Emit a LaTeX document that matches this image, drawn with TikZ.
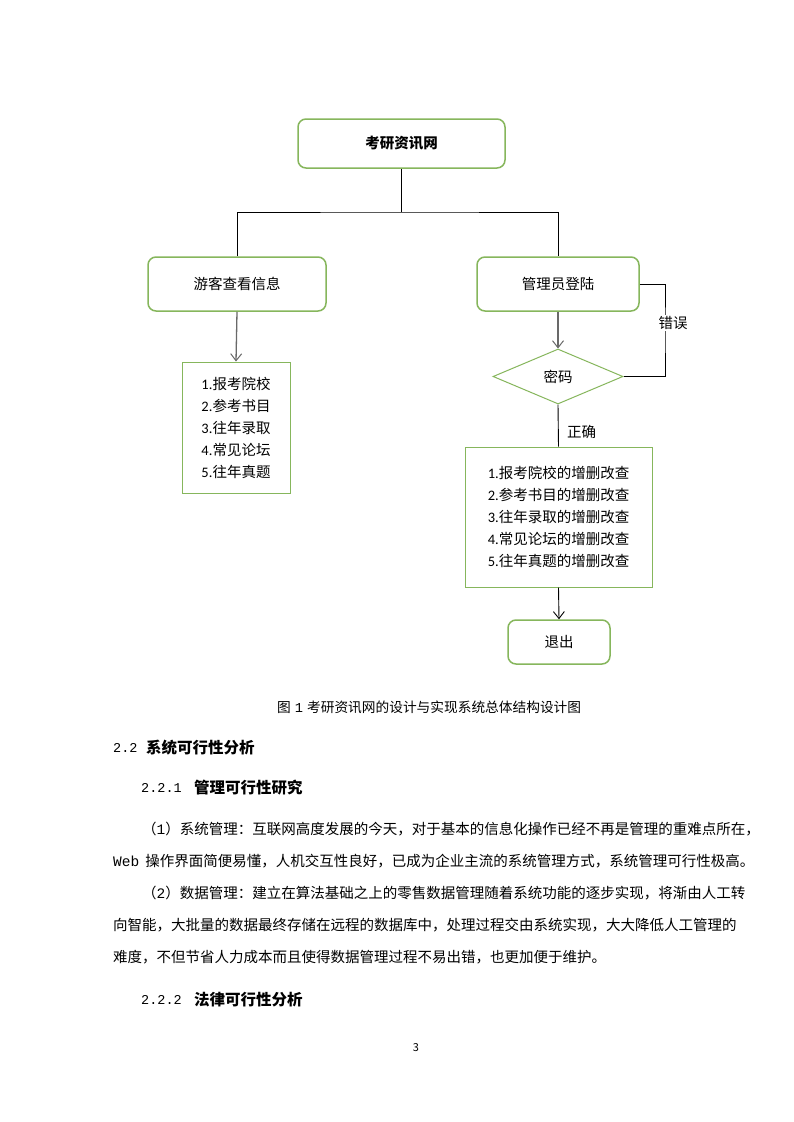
\documentclass[tikz,border=0pt]{standalone}
\usepackage{fontspec}
\setmainfont{Noto Sans CJK SC}
\newfontfamily\monof{Liberation Mono}
\newfontfamily\calf{Carlito}
\usetikzlibrary{shapes.geometric,arrows.meta}
\XeTeXlinebreaklocale "zh"
\XeTeXlinebreakskip=0pt plus 3pt minus 1.5pt
\definecolor{gr}{RGB}{134,182,92}
\definecolor{agray}{RGB}{105,105,105}
\newcommand{\jl}[2]{\makebox[#1][s]{#2}}
\tikzset{
  rbox/.style={draw=gr, line width=1.5pt, rounded corners=8pt, fill=white, inner sep=0pt, font=\fontsize{14.5}{17}\selectfont},
  lbox/.style={draw=gr, line width=1pt, fill=white, inner sep=0pt, align=left, font=\fontsize{14.5}{22}\selectfont},
  dia/.style={diamond, draw=gr, line width=1pt, fill=white, inner sep=0pt, font=\fontsize{14.5}{17}\selectfont},
  conn/.style={draw=black, line width=0.9pt},
  garrow/.style={draw=agray, line width=1.3pt, -{Straight Barb[length=7pt,width=11pt,line width=1pt]}},
  barrow/.style={draw=black, line width=0.9pt, -{Straight Barb[length=7pt,width=11pt,line width=0.9pt]}},
  lbl/.style={inner sep=1pt, fill=white, font=\fontsize{14.5}{17}\selectfont},
  bodyt/.style={inner sep=0pt, anchor=west, font=\fontsize{14.5}{17}\selectfont},
  headt/.style={inner sep=0pt, anchor=west, font=\fontsize{15.5}{18}\selectfont\bfseries},
  numt/.style={inner sep=0pt, anchor=west, font=\fontsize{13.5}{16}\monof},
}
\begin{document}
\begin{tikzpicture}[x=1pt,y=-1pt]
\useasboundingbox (0,0) rectangle (793,1122);
\fill[white] (0,0) rectangle (793,1122);

% flowchart nodes
\node[rbox, minimum width=207, minimum height=49] (top) at (401.5,143.5) {\bfseries 考研资讯网};
\node[rbox, minimum width=178, minimum height=54] (guest) at (237,284) {游客查看信息};
\node[rbox, minimum width=162, minimum height=54] (admin) at (558,284) {管理员登陆};
\node[lbox, minimum width=108, minimum height=131] (list1) at (236,427.5)
  {{\calf 1.}报考院校\\{\calf 2.}参考书目\\{\calf 3.}往年录取\\{\calf 4.}常见论坛\\{\calf 5.}往年真题};
\node[dia, minimum width=130, minimum height=55] (pwd) at (558,376.5) {密码};
\node[lbox, minimum width=187, minimum height=140] (list2) at (558.5,517)
  {{\calf 1.}报考院校的增删改查\\{\calf 2.}参考书目的增删改查\\{\calf 3.}往年录取的增删改查\\{\calf 4.}常见论坛的增删改查\\{\calf 5.}往年真题的增删改查};
\node[rbox, minimum width=102, minimum height=44] (exit) at (559,642) {退出};

\coordinate (jn) at (401.5,212);
\coordinate (loopc) at (665,330);

% connectors
\draw[conn] (top.south) -- (jn);
\draw[conn] (guest.north) |- (jn) -| (admin.north);
\draw[garrow] (guest.south) -- (list1.north);
\draw[garrow] (admin.south) -- (pwd.north);
\draw[conn] (pwd.south) -- (list2.north);
\draw[barrow] (list2.south) -- (exit.north);
\draw[conn] (admin.east) -| (loopc) |- (pwd.east);
\node[lbl] (err) at (673,323) {错误};
\node[lbl, anchor=west] (ok) at (566,432) {正确};

% caption and body text
\node[inner sep=0pt, anchor=west, font=\fontsize{13.7}{16}\selectfont] (cap) at (277,707) {图\hspace{4pt}{\monof 1}\hspace{4pt}考研资讯网的设计与实现系统总体结构设计图};
\node[numt] (h1n) at (113,748) {2.2};
\node[headt] (h1) at (146,748) {系统可行性分析};
\node[numt] (h2n) at (141,788) {2.2.1};
\node[headt] (h2) at (194,788) {管理可行性研究};
\node[bodyt] (p1) at (142,829) {\jl{572pt}{（{\monof 1}）系统管理：互联网高度发展的今天，对于基本的信息化操作已经不再是管理的重难点所在，}};
\node[bodyt] (p2) at (113,861) {\jl{606pt}{{\monof Web}\hspace{6pt}操作界面简便易懂，人机交互性良好，已成为企业主流的系统管理方式，系统管理可行性极高。}};
\node[bodyt] (p3) at (142,893) {\jl{572pt}{（{\monof 2}）数据管理：建立在算法基础之上的零售数据管理随着系统功能的逐步实现，将渐由人工转}};
\node[bodyt] (p4) at (113,925) {\jl{601pt}{向智能，大批量的数据最终存储在远程的数据库中，处理过程交由系统实现，大大降低人工管理的}};
\node[bodyt] (p5) at (113,957) {难度，不但节省人力成本而且使得数据管理过程不易出错，也更加便于维护。};
\node[numt] (h3n) at (141,1000) {2.2.2};
\node[headt] (h3) at (194,1000) {法律可行性分析};
\node[inner sep=0pt, font=\fontsize{11}{13}\selectfont] (pg) at (416,1048) {3};
\end{tikzpicture}
\end{document}
